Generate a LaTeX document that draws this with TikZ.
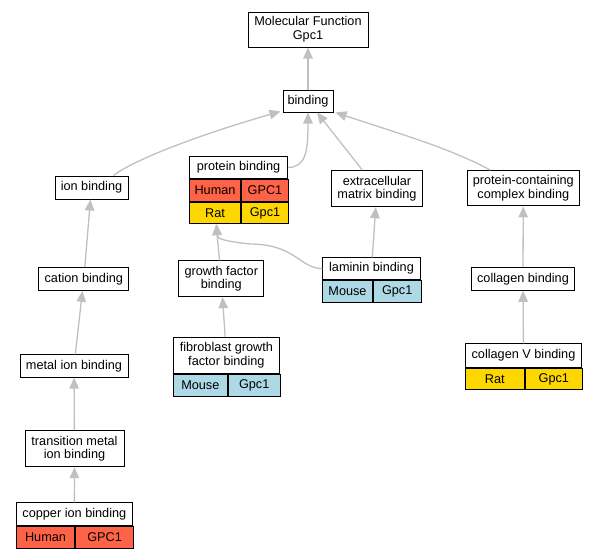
\documentclass[tikz,border=0pt]{standalone}
\usepackage{fontspec}
\setmainfont{Liberation Sans}
\usetikzlibrary{arrows.meta, calc}
\usepackage{xcolor}
\definecolor{tomato}{RGB}{255,99,71}
\definecolor{goldcell}{RGB}{255,215,0}
\definecolor{bluecell}{RGB}{173,216,230}
\definecolor{edgegray}{RGB}{192,192,192}
\begin{document}
\begin{tikzpicture}[x=1pt, y=-1pt]
			\tikzstyle{termnode}=[
			draw,
			line width=1pt,
			rectangle,
			fill=white,
			align=center,
			inner sep=0pt,
			font=\fontsize{12.7}{13.6}\selectfont
			]
			\tikzstyle{headnode}=[
			termnode,
			anchor=north west,
			minimum height=22.5pt
			]
			\tikzstyle{cellnode}=[
			termnode,
			anchor=north west,
			minimum height=21.5pt
			]
			\tikzstyle{isa}=[
			draw=edgegray,
			line width=1.3pt,
			-{Triangle[length=11pt, width=9.5pt]}
			]
			\useasboundingbox (0,0) rectangle (597,557);
			% terms without annotations
			\node[termnode, minimum width=120pt, minimum height=35pt] (MF) at (308,29.5) {Molecular Function\\Gpc1};
			\node[termnode, minimum width=50pt, minimum height=22pt] (BIND) at (308,101) {binding};
			\node[termnode, minimum width=73pt, minimum height=23pt] (ION) at (91.5,187.5) {ion binding};
			\node[termnode, minimum width=90.6pt, minimum height=36pt] (ECM) at (377,188.7) {extracellular\\matrix binding};
			\node[termnode, minimum width=112pt, minimum height=35.3pt] (PCC) at (523.3,188.3) {protein-containing\\complex binding};
			\node[termnode, minimum width=90.3pt, minimum height=22.6pt] (CAT) at (83.8,279) {cation binding};
			\node[termnode, minimum width=85.3pt, minimum height=35.7pt] (GF) at (221.3,278.8) {growth factor\\binding};
			\node[termnode, minimum width=103.4pt, minimum height=23pt] (COL) at (523,278.8) {collagen binding};
			\node[termnode, minimum width=108pt, minimum height=22.3pt] (METAL) at (74,366) {metal ion binding};
			\node[termnode, minimum width=99pt, minimum height=36pt] (TRANS) at (74.5,448.7) {transition metal\\ion binding};
			%
			% annotated terms
			\node[headnode, minimum width=98pt] (PROT) at (189,155.7) {protein binding};
			\node[cellnode, fill=tomato, minimum width=51pt] (PROTa) at (PROT.south west) {Human};
			\node[cellnode, fill=tomato, minimum width=47pt] (PROTb) at (PROTa.north east) {GPC1};
			\node[cellnode, fill=goldcell, minimum width=51pt] (PROTc) at (PROTa.south west) {Rat};
			\node[cellnode, fill=goldcell, minimum width=47pt] (PROTd) at (PROTc.north east) {Gpc1};
			\node[headnode, minimum width=97.4pt, minimum height=21.7pt] (LAM) at (322.3,257.3) {laminin binding};
			\node[cellnode, fill=bluecell, minimum width=49.4pt, minimum height=22pt] (LAMa) at (LAM.south west) {Mouse};
			\node[cellnode, fill=bluecell, minimum width=48pt, minimum height=22pt] (LAMb) at (LAMa.north east) {Gpc1};
			\node[headnode, minimum width=105.7pt, minimum height=36.6pt] (FGF) at (173,336.7) {fibroblast growth\\factor binding};
			\node[cellnode, fill=bluecell, minimum width=53.7pt] (FGFa) at (FGF.south west) {Mouse};
			\node[cellnode, fill=bluecell, minimum width=52pt] (FGFb) at (FGFa.north east) {Gpc1};
			\node[headnode, minimum width=116pt, minimum height=23.4pt] (COLV) at (465,343.3) {collagen V binding};
			\node[cellnode, fill=goldcell, minimum width=58.7pt] (COLVa) at (COLV.south west) {Rat};
			\node[cellnode, fill=goldcell, minimum width=57.3pt] (COLVb) at (COLVa.north east) {Gpc1};
			\node[headnode, minimum width=116.3pt, minimum height=22.4pt] (CU) at (15.7,502.3) {copper ion binding};
			\node[cellnode, fill=tomato, minimum width=58.6pt, minimum height=22pt] (CUa) at (CU.south west) {Human};
			\node[cellnode, fill=tomato, minimum width=57.7pt, minimum height=22pt] (CUb) at (CUa.north east) {GPC1};
			%
			% is-a edges
			\coordinate (LAMbend) at (250,244);
			\draw[isa] (BIND) -- (MF);
			\draw[isa] ($(ION.north)+(21.8,0)$) .. controls +(27,-20) and +(-60,17) .. ($(BIND.south west)+(-2,-1)$);
			\draw[isa] (PROT.east) .. controls +(18,0) and +(0,38) .. (BIND.south);
			\draw[isa] (ECM) -- (BIND);
			\draw[isa] ($(PCC.north)+(-33,0)$) .. controls +(-40,-22) and +(60,20) .. ($(BIND.south east)+(2,0)$);
			\draw[isa] (CAT) -- (ION);
			\draw[isa] (GF) -- (PROTc);
			\draw[isa] (LAM.west) .. controls +(-22,0) and +(45,0) .. (LAMbend) .. controls +(-25,-3) and +(0,15) .. ($(PROTc.south)+(2,0)$);
			\draw[isa] (LAM) -- (ECM);
			\draw[isa] (COL) -- (PCC);
			\draw[isa] (METAL) -- (CAT);
			\draw[isa] (FGF) -- (GF);
			\draw[isa] (COLV) -- (COL);
			\draw[isa] (TRANS) -- (METAL);
			\draw[isa] (CU) -- (TRANS);
		\end{tikzpicture}
\end{document}
